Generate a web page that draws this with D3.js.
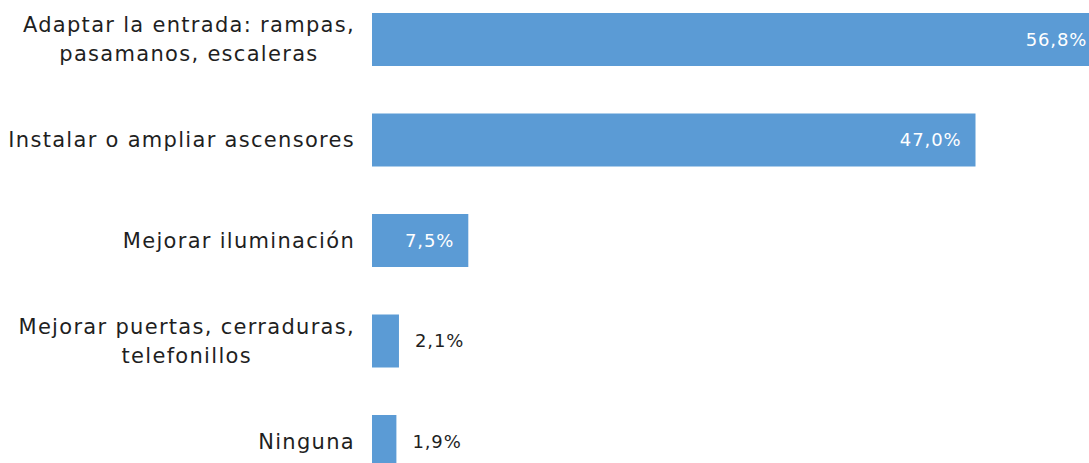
<!DOCTYPE html>
<html>
<head>
<meta charset="utf-8">
<script src="https://cdn.jsdelivr.net/npm/d3@7"></script>
<style>
  html, body { margin: 0; padding: 0; background: #fff; overflow: hidden; }
  svg { display: block; }
</style>
</head>
<body>
<svg id="chart" width="1089" height="463"></svg>
<script>
// Mejoras de accesibilidad deseadas en el edificio (% de respuestas)
const categories = [
  ["Adaptar la entrada: rampas,", "pasamanos, escaleras"],
  ["Instalar o ampliar ascensores"],
  ["Mejorar iluminación"],
  ["Mejorar puertas, cerraduras,", "telefonillos"],
  ["Ninguna"]
];
const values = [56.8, 47.0, 7.5, 2.1, 1.9];
const valueLabels = ["56,8%", "47,0%", "7,5%", "2,1%", "1,9%"];

const svg = d3.select("#chart");
const fontFamily = "'DejaVu Sans', sans-serif";

const x0 = 372;
const x = d3.scaleLinear().domain([0, 47]).range([x0, 975.5]);

const keys = categories.map((c, i) => i);
const y = d3.scaleBand()
  .domain(keys)
  .range([-10.75, 491.75])
  .paddingInner(0.4726)
  .paddingOuter(0.2363);

const g = svg.append("g");

// Bars
g.selectAll("rect.bar")
  .data(values)
  .join("rect")
  .attr("class", "bar")
  .attr("x", x(0))
  .attr("y", (d, i) => y(i))
  .attr("width", d => x(d) - x(0))
  .attr("height", y.bandwidth())
  .attr("fill", "#5b9bd5");

// Value labels: inside the bar (white) when it is wide enough, otherwise outside
const insideMin = 5;
g.selectAll("text.val")
  .data(values)
  .join("text")
  .attr("class", "val")
  .attr("x", d => d >= insideMin ? x(d) - 14 : x(d) + 16)
  .attr("y", (d, i) => y(i) + y.bandwidth() / 2)
  .attr("dy", "0.35em")
  .attr("text-anchor", d => d >= insideMin ? "end" : "start")
  .attr("fill", d => d >= insideMin ? "#ffffff" : "#1f1f1f")
  .style("font-family", fontFamily)
  .style("font-size", "18px")
  .style("letter-spacing", "0.9px")
  .text((d, i) => valueLabels[i]);

// Category labels (one or two lines, block right aligned before the bars, lines centred)
const lineH = 29;
const catG = g.selectAll("text.cat")
  .data(categories)
  .join("text")
  .attr("class", "cat")
  .attr("text-anchor", "middle")
  .attr("fill", "#1f1f1f")
  .style("font-family", fontFamily)
  .style("font-size", "21px")
  .style("letter-spacing", "1.3px");

catG.each(function(lines, i) {
  const t = d3.select(this);
  const cy = y(i) + y.bandwidth() / 2;
  const n = lines.length;
  lines.forEach((ln, j) => {
    t.append("tspan")
      .attr("y", cy + (j - (n - 1) / 2) * lineH)
      .attr("dy", "0.35em")
      .text(ln);
  });
  const widths = t.selectAll("tspan").nodes().map(n => n.getComputedTextLength());
  const maxW = d3.max(widths);
  const right = 355;
  t.selectAll("tspan").attr("x", right - maxW / 2);
});
</script>
</body>
</html>
